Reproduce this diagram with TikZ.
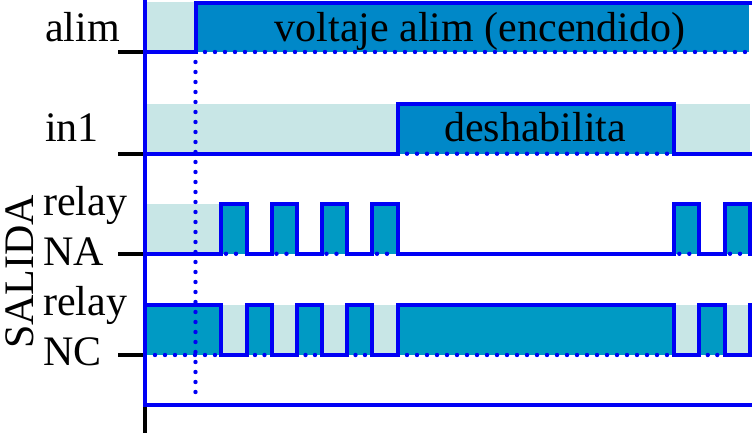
\documentclass[tikz,border=0pt]{standalone}
\usepackage{fontspec}
\setmainfont{Liberation Serif}
\definecolor{sigblue}{RGB}{0,0,245}
\definecolor{darkA}{RGB}{0,136,200}
\definecolor{darkB}{RGB}{0,154,196}
\definecolor{lightband}{RGB}{200,230,230}
\tikzset{
  sig/.style={draw=sigblue,line width=4pt},
  tickmark/.style={draw=black,line width=4pt},
  dotfill/.style={fill=sigblue},
  lbl/.style={inner sep=0pt,anchor=base west,font=\fontsize{42}{48}\selectfont},
  intext/.style={inner sep=0pt,anchor=base,font=\fontsize{42}{48}\selectfont},
}
\newcommand{\bluedot}[2]{\fill[dotfill] (#1,#2) circle[radius=2.2pt];}
\begin{document}
\begin{tikzpicture}[x=1pt,y=-1pt]
\useasboundingbox (0,0) rectangle (752,433);
% bands
\fill[lightband] (145,2) rectangle (195.7,52);
\fill[darkA] (195.7,3.3) rectangle (749,52);
\fill[lightband] (145,103.7) rectangle (750,153.7);
\fill[darkA] (397.7,103.7) rectangle (674.3,153.7);
\fill[lightband] (145,203.7) rectangle (221,253.8);
\foreach \a/\b in {221/246.5,271.5/297,321.5/347,372/397.5,674.3/699.3,725/750}
  {\fill[darkB] (\a,203.7) rectangle (\b,253.8);}
\fill[lightband] (145,304.7) rectangle (750,355);
\foreach \a/\b in {145/221,246.5/271.5,297/321.5,347/372,397.5/674.3,699.3/725}
  {\fill[darkB] (\a,304.7) rectangle (\b,355);}
% dotted lines
\foreach \y in {62,72,...,392} {\bluedot{195.5}{\y}}
\foreach \x in {205,215,...,745} {\bluedot{\x}{52}}
\foreach \x in {407,417,...,667} {\bluedot{\x}{153.7}}
\foreach \a in {221,271.5,321.5,372,674.3,725} {\bluedot{\a+5}{253.8}\bluedot{\a+15}{253.8}}
\foreach \x in {155,165,...,215} {\bluedot{\x}{355}}
\foreach \a in {246.5,297,347,699.3} {\bluedot{\a+8.5}{355}\bluedot{\a+18}{355}}
\foreach \x in {407,417,...,667} {\bluedot{\x}{355}}
% ticks
\foreach \y in {52,153.7,253.8,355}
  {\draw[tickmark] (118,\y) -- (145,\y);}
\draw[tickmark] (145,405) -- (145,433);
% axes
\draw[sig] (145,0) -- (145,405.3);
\draw[sig] (143,405.3) -- (752,405.3);
% signals
\draw[sig] (145,52) -- (195.7,52) -- (195.7,3.3) -- (752,3.3);
\draw[sig] (145,153.7) -- (397.7,153.7) -- (397.7,103.7) -- (674.3,103.7) -- (674.3,153.7) -- (752,153.7);
\draw[sig] (145,253.8) -- (221,253.8) -- (221,203.7) -- (246.5,203.7) -- (246.5,253.8)
  -- (271.5,253.8) -- (271.5,203.7) -- (297,203.7) -- (297,253.8)
  -- (321.5,253.8) -- (321.5,203.7) -- (347,203.7) -- (347,253.8)
  -- (372,253.8) -- (372,203.7) -- (397.5,203.7) -- (397.5,253.8)
  -- (674.3,253.8) -- (674.3,203.7) -- (699.3,203.7) -- (699.3,253.8)
  -- (725,253.8) -- (725,203.7) -- (750,203.7) -- (750,253.8) -- (752,253.8);
\draw[sig] (145,304.7) -- (221,304.7) -- (221,355) -- (246.5,355) -- (246.5,304.7)
  -- (271.5,304.7) -- (271.5,355) -- (297,355) -- (297,304.7)
  -- (321.5,304.7) -- (321.5,355) -- (347,355) -- (347,304.7)
  -- (372,304.7) -- (372,355) -- (397.5,355) -- (397.5,304.7)
  -- (674.3,304.7) -- (674.3,355) -- (699.3,355) -- (699.3,304.7)
  -- (725,304.7) -- (725,355) -- (750,355) -- (750,304.7) -- (752,304.7);
% labels
\node[lbl] (lalim) at (45,42) {alim};
\node[lbl] (lin) at (45,142) {in1};
\node[lbl] (lrna) at (43,215) {relay};
\node[lbl] (lna) at (43,265) {NA};
\node[lbl] (lrnc) at (43,315) {relay};
\node[lbl] (lnc) at (43,365) {NC};
\node[inner sep=0pt,anchor=base,rotate=90,font=\fontsize{42}{48}\selectfont] (lsal) at (33.5,272) {SALIDA};
\node[intext] (tvolt) at (480,42) {voltaje alim (encendido)};
\node[intext] (tdes) at (535,142) {deshabilita};
\end{tikzpicture}
\end{document}
